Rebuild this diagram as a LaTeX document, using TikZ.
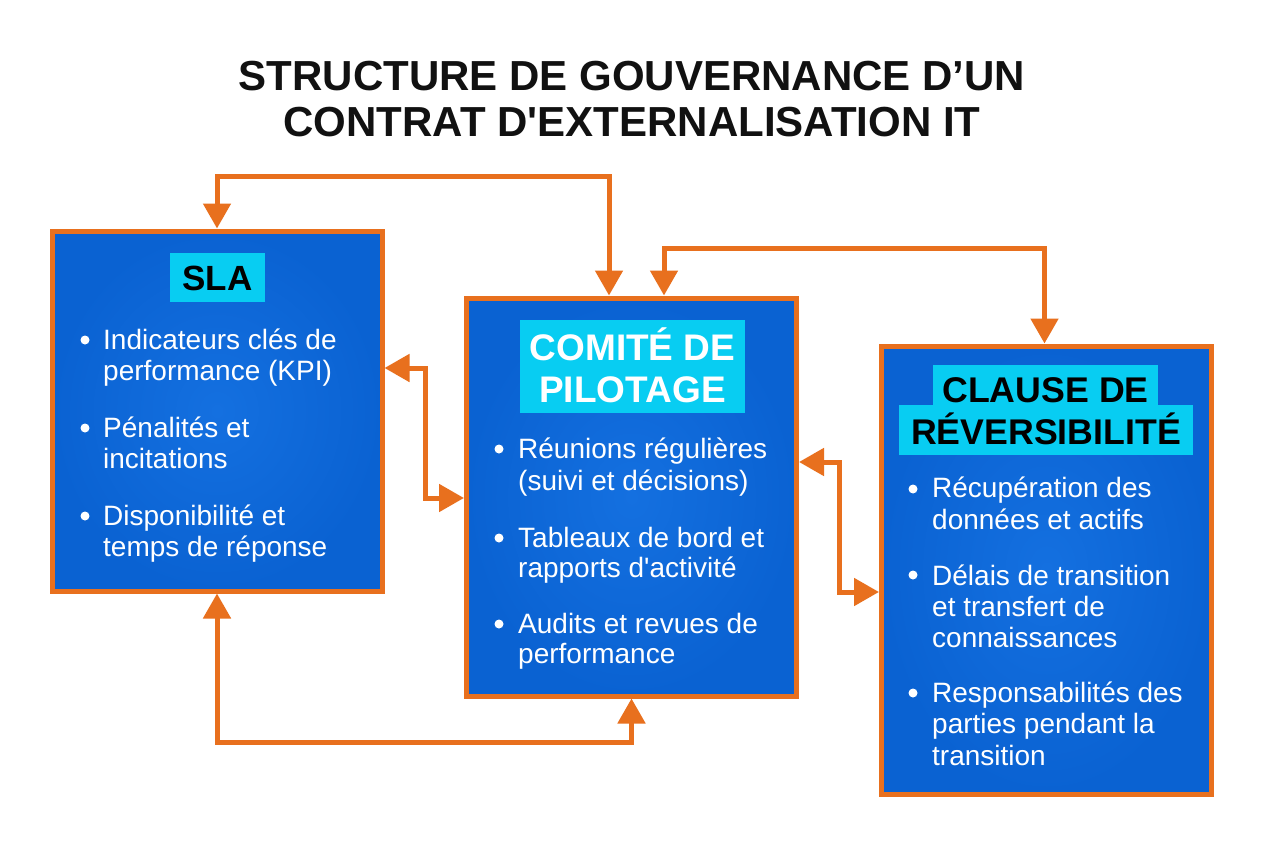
\documentclass[tikz,border=0pt]{standalone}
\usepackage{fontspec}
\setmainfont{Liberation Sans}
\usetikzlibrary{arrows.meta}
\definecolor{orng}{HTML}{E8701E}
\definecolor{blueOut}{HTML}{0A62D2}
\definecolor{blueIn}{HTML}{1470E0}
\definecolor{cyanL}{HTML}{08CDF2}
\definecolor{ttl}{HTML}{111111}
\begin{document}
\begin{tikzpicture}[x=1pt,y=-1pt,
  box/.style={draw=orng,line width=5pt,inner color=blueIn,outer color=blueOut,
    shading=radial,inner sep=0pt},
  arr/.style={draw=orng,line width=5pt,
    {Triangle[length=25pt,width=27pt]}-{Triangle[length=25pt,width=27pt]}},
  body/.style={text=white,font=\fontsize{28}{31}\selectfont,anchor=base west,inner sep=0pt},
  capsb/.style={font=\bfseries\fontsize{#1}{#1}\selectfont,inner sep=0pt,
    text height=0.716*#1 pt,text depth=0pt,anchor=center},
  dot/.style={fill=white}
]
\useasboundingbox (0,0) rectangle (1264,848);
\fill[white] (0,0) rectangle (1264,848);

% title
\node[capsb=42,text=ttl] (t1) at (632,75) {STRUCTURE DE GOUVERNANCE D’UN};
\node[capsb=42,text=ttl] (t2) at (632,121) {CONTRAT D\textquotesingle EXTERNALISATION IT};

% boxes
\node[box,minimum width=330pt,minimum height=360pt] (sla) at (217,411) {};
\node[box,minimum width=330pt,minimum height=398pt] (com) at (631.5,497) {};
\node[box,minimum width=330pt,minimum height=448pt] (cla) at (1046.5,570) {};

% labels
\fill[cyanL] (170,253) rectangle (265,302);
\node[capsb=35,text=black] (slat) at (217.5,277.5) {SLA};
\fill[cyanL] (520,320) rectangle (745,413);
\node[capsb=37,text=white] (comt1) at (632.5,347) {COMITÉ DE};
\node[capsb=37,text=white] (comt2) at (632.5,389) {PILOTAGE};
\fill[cyanL] (933,365) rectangle (1158,406);
\fill[cyanL] (899,405) rectangle (1193,455);
\node[capsb=35.7,text=black] (clat1) at (1045.5,390) {CLAUSE DE};
\node[capsb=35.7,text=black] (clat2) at (1046,432) {RÉVERSIBILITÉ};

% SLA items
\foreach \y in {340,428,516} \fill[dot] (85,\y) circle (4.5);
\node[body] (s1a) at (103,349) {Indicateurs clés de};
\node[body] (s1b) at (103,380) {performance (KPI)};
\node[body] (s2a) at (103,437) {Pénalités et};
\node[body] (s2b) at (103,468) {incitations};
\node[body] (s3a) at (103,525) {Disponibilité et};
\node[body] (s3b) at (103,556) {temps de réponse};

% Comite items
\foreach \y in {449,538,624} \fill[dot] (499,\y) circle (4.5);
\node[body] (c1a) at (518,458) {Réunions régulières};
\node[body] (c1b) at (518,490) {(suivi et décisions)};
\node[body] (c2a) at (518,547) {Tableaux de bord et};
\node[body] (c2b) at (518,577) {rapports d\textquotesingle activité};
\node[body] (c3a) at (518,633) {Audits et revues de};
\node[body] (c3b) at (518,663) {performance};

% Clause items
\foreach \y in {489,575,693} \fill[dot] (913,\y) circle (4.5);
\node[body] (r1a) at (932,497) {Récupération des};
\node[body] (r1b) at (932,529) {données et actifs};
\node[body] (r2a) at (932,585) {Délais de transition};
\node[body] (r2b) at (932,616) {et transfert de};
\node[body] (r2c) at (932,647) {connaissances};
\node[body] (r3a) at (932,702) {Responsabilités des};
\node[body] (r3b) at (932,733) {parties pendant la};
\node[body] (r3c) at (932,765) {transition};

% connectors
\coordinate (top1) at (400,177);
\coordinate (top2) at (850,248);
\coordinate (bot) at (400,742);
\draw[arr] (sla.north) |- (top1) -| ([xshift=-22.5pt]com.north);
\draw[arr] ([xshift=32.5pt]com.north) |- (top2) -| ([xshift=-2pt]cla.north);
\draw[arr] ([yshift=43pt]sla.east) -- ++(41,0) |- ([yshift=-1pt]com.west);
\draw[arr] ([yshift=35pt]com.east) -- ++(40,0) |- ([yshift=-22pt]cla.west);
\draw[arr] (sla.south) |- (bot) -| (com.south);
\end{tikzpicture}
\end{document}
